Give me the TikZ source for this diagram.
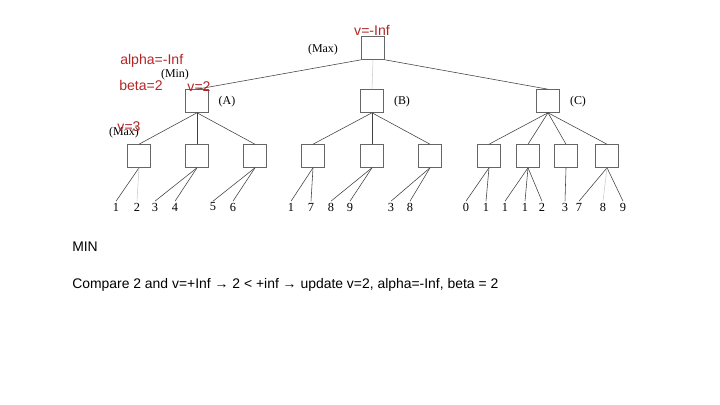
\documentclass[tikz,border=0pt]{standalone}
\usepackage{fontspec}
\setmainfont{Liberation Serif}
\setsansfont{Liberation Sans}
\usetikzlibrary{positioning}
\definecolor{valred}{RGB}{180,38,38}

\begin{document}
\begin{tikzpicture}[
    x=0.025cm, y=-0.025cm,
    box/.style={draw=black!60, rectangle, minimum size=0.575cm, inner sep=0pt, fill=white},
    tag/.style={font=\fontsize{8.5}{10}\selectfont, inner sep=0pt},
    val/.style={font=\sffamily\fontsize{10}{12}\selectfont, text=valred, inner sep=0pt},
    leaf/.style={font=\fontsize{8.8}{10}\selectfont, inner sep=1pt},
    edge/.style={black!75, thin},
    faint/.style={black!20, thin},
    note/.style={font=\sffamily\fontsize{9.9}{12}\selectfont, anchor=west, inner sep=0pt}
]
\useasboundingbox (0,0) rectangle (720,405);

% boxes
\node[box] (root) at (373,48) {};
\node[box] (A) at (197,101) {};
\node[box] (B) at (372,101) {};
\node[box] (C) at (548,101) {};

\foreach \n/\x in {a1/139, a2/197, a3/255, b1/313, b2/372, b3/430, c1/489, c2/528, c3/566, c4/607}
    \node[box] (\n) at (\x,156) {};

% leaves
\foreach \n/\x/\t in {la1/116/1, la2/137/2, la3/155/3, la4/175/4, la5/213/5, la6/233/6,
    lb1/291/1, lb2/311/7, lb3/331/8, lb4/350/9, lb5/391/3, lb6/410/8,
    lc1/466/0, lc2/486/1, lc3/505/1, lc4/525/1, lc5/542/2, lc6/565/3, lc7/579/7, lc8/603/8, lc9/623/9}
    \node[leaf] (\n) at (\x,207) {\t};

% labels
\node[tag] (maxr) at (323,50) {(Max)};
\node[tag] (mina) at (175,75) {(Min)};
\node[tag] (tA) at (227,102) {(A)};
\node[tag] (tB) at (402,102) {(B)};
\node[tag] (tC) at (578,102) {(C)};
\node[tag] (maxa) at (124,133) {(Max)};

\node[val] (vroot) at (372,30) {v=-Inf};
\node[val, anchor=west] (alpha) at (120,61) {alpha=-Inf};
\node[val, anchor=west] (beta) at (119,85) {beta=2};
\node[val] (vA) at (199,87) {v=2};
\node[val] (va1) at (129,127) {v=3};

% edges
\draw[edge] (root.south west) -- (A.north);
\draw[faint] (root.south) -- (B.north);
\draw[edge] (root.south east) -- (C.north);

\foreach \p/\c in {A/a1, A/a2, A/a3, B/b1, B/b2, B/b3, C/c1, C/c2, C/c3, C/c4}
    \draw[edge] (\p.south) -- (\c.north);

\foreach \p/\l in {a1/la1, a2/la3, a2/la4, a3/la5, a3/la6,
    b1/lb1, b1/lb2, b2/lb3, b2/lb4, b3/lb5, b3/lb6,
    c1/lc1, c1/lc2, c2/lc3, c2/lc4, c2/lc5, c3/lc6, c4/lc7, c4/lc9}
    \draw[edge] (\p.south) -- (\l.north);
\draw[faint] (a1.south) -- (la2.north);
\draw[faint] (c4.south) -- (lc8.north);

% notes
\node[note] (mode) at (72,247) {MIN};
\node[note] (step1) at (72,285) {Compare 2 and v=+Inf → 2 < +inf → update v=2, alpha=-Inf, beta = 2};

\end{tikzpicture}
\end{document}
